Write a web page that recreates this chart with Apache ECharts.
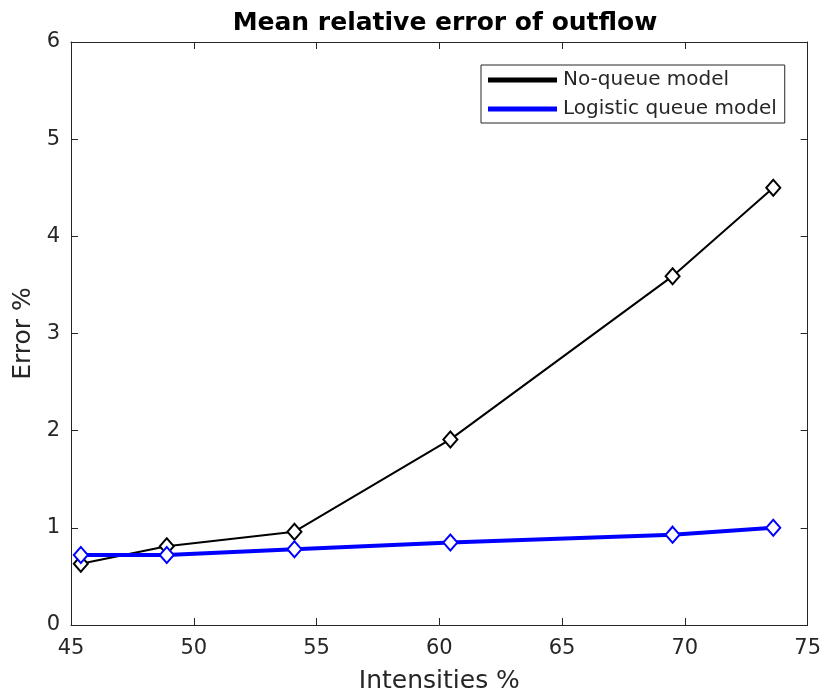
<!DOCTYPE html>
<html>
<head>
<meta charset="utf-8">
<script src="https://cdn.jsdelivr.net/npm/echarts@6/dist/echarts.min.js"></script>
<style>html,body{margin:0;padding:0;background:#fff}#c{width:824px;height:699px}</style>
</head>
<body>
<div id="c"></div>
<script>
const intensities = [45.4, 48.9, 54.1, 60.45, 69.5, 73.6];
const noQueue = [0.63, 0.81, 0.96, 1.91, 3.59, 4.50];
const logisticQueue = [0.72, 0.72, 0.78, 0.85, 0.93, 1.00];
const xTicks = [45, 50, 55, 60, 65, 70, 75];
const yTicks = [0, 1, 2, 3, 4, 5, 6];
const seriesNames = ['No-queue model', 'Logistic queue model'];

const axisCol = '#262626';
const font = 'DejaVu Sans';
const chart = echarts.init(document.getElementById('c'));
const boxAxis = (extra) => Object.assign({
  type: 'value',
  axisLine: { show: true, onZero: false, lineStyle: { color: axisCol, width: 1 } },
  axisTick: { show: true, inside: true, length: 7, lineStyle: { color: axisCol } },
  splitLine: { show: false }
}, extra);

chart.setOption({
  animation: false,
  backgroundColor: '#fff',
  title: {
    text: 'Mean relative error of outflow',
    left: 440, top: 6, textAlign: 'center',
    textStyle: { fontFamily: font, fontWeight: 'bold', fontSize: 25, color: '#000' }
  },
  grid: { left: 71, right: 15, top: 42, bottom: 73 },
  legend: {
    orient: 'vertical',
    left: 481, top: 65,
    width: 306,
    padding: [5, 8, 4, 7],
    itemGap: 9,
    itemWidth: 67, itemHeight: 3,
    borderColor: axisCol, borderWidth: 1,
    backgroundColor: '#fff',
    textStyle: { fontFamily: font, fontSize: 20, color: axisCol, padding: [0, 0, 0, 2] },
    data: [
      { name: seriesNames[0], icon: 'rect', itemStyle: { color: '#000' } },
      { name: seriesNames[1], icon: 'rect', itemStyle: { color: '#0000ff' } }
    ]
  },
  xAxis: [
    boxAxis({
      min: xTicks[0], max: xTicks[xTicks.length - 1], interval: xTicks[1] - xTicks[0],
      position: 'bottom',
      name: 'Intensities %', nameLocation: 'middle', nameGap: 44,
      nameTextStyle: { fontFamily: font, fontSize: 25, color: axisCol },
      axisLabel: { fontFamily: font, fontSize: 21, color: axisCol, margin: 13 }
    }),
    boxAxis({
      min: xTicks[0], max: xTicks[xTicks.length - 1], interval: xTicks[1] - xTicks[0],
      position: 'top', axisLabel: { show: false }
    })
  ],
  yAxis: [
    boxAxis({
      min: yTicks[0], max: yTicks[yTicks.length - 1], interval: yTicks[1] - yTicks[0],
      position: 'left',
      name: 'Error %', nameLocation: 'middle', nameGap: 34, nameRotate: 90,
      nameTextStyle: { fontFamily: font, fontSize: 25, color: axisCol },
      axisLabel: { fontFamily: font, fontSize: 21, color: axisCol, margin: 11 }
    }),
    boxAxis({
      min: yTicks[0], max: yTicks[yTicks.length - 1], interval: yTicks[1] - yTicks[0],
      position: 'right', axisLabel: { show: false }
    })
  ],
  series: [
    {
      name: seriesNames[0], type: 'line',
      data: intensities.map((x, i) => [x, noQueue[i]]),
      symbol: 'emptyDiamond', symbolSize: [14, 16],
      lineStyle: { color: '#000', width: 2 },
      itemStyle: { color: '#000', borderColor: '#000', borderWidth: 1.8 }
    },
    {
      name: seriesNames[1], type: 'line',
      data: intensities.map((x, i) => [x, logisticQueue[i]]),
      symbol: 'emptyDiamond', symbolSize: [14, 16],
      lineStyle: { color: '#0000ff', width: 4 },
      itemStyle: { color: '#0000ff', borderColor: '#0000ff', borderWidth: 2.8 }
    }
  ]
});
</script>
</body>
</html>
